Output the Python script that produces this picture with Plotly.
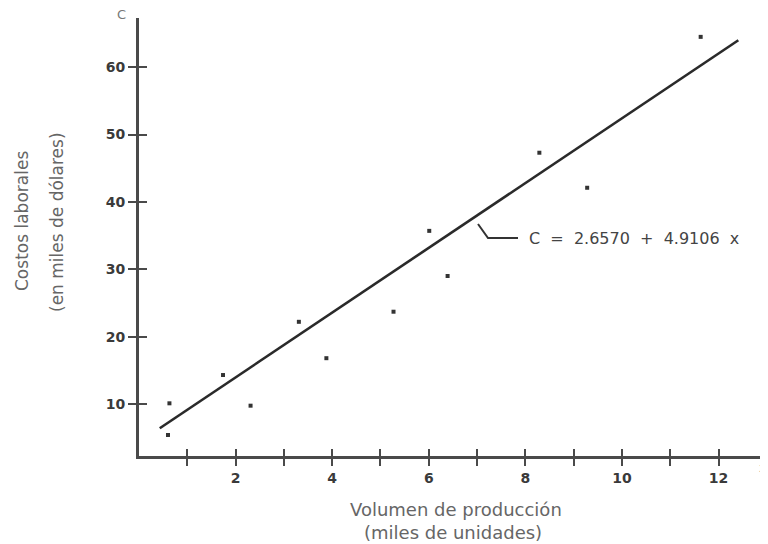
import plotly.graph_objects as go

# Data
volumen = [0.60, 0.63, 1.74, 2.31, 3.31, 3.88, 5.27, 6.01, 6.39, 8.29, 9.28, 11.63]
costos = [5.4, 10.1, 14.3, 9.75, 22.2, 16.8, 23.7, 35.7, 29.0, 47.3, 42.1, 64.5]
# fitted line as drawn in the chart (C = 2.6570 + 4.9106 x)
linea_x = [0.43, 12.41]
linea_y = [6.4, 64.0]
x_ticks = list(range(1, 13))
x_labels = [str(v) if v % 2 == 0 else "" for v in x_ticks]
y_ticks = [10, 20, 30, 40, 50, 60]
y_labels = [str(v) for v in y_ticks]

XR = [0, 12.9]
YR = [2.28, 67.3]
axis_col = "#4a4a4a"
font_fam = "DejaVu Sans, Verdana, sans-serif"

# page body offsets the figure by 8px; figure sized to fill the rest of the window
OFF = 8
FW, FH = 768 - OFF, 544 - OFF
L, T = 139 - OFF, 18 - OFF
R, B = 6, 88

fig = go.Figure()
fig.add_trace(go.Scatter(x=linea_x, y=linea_y, mode="lines",
                         line=dict(color="#2a2a2a", width=2.6), showlegend=False))
fig.add_trace(go.Scatter(x=volumen, y=costos, mode="markers",
                         marker=dict(symbol="square", size=4, color="#333333"),
                         showlegend=False))

common_x = dict(range=XR, tickvals=x_ticks, showgrid=False, zeroline=False,
                ticklen=7, tickwidth=2, tickcolor=axis_col, fixedrange=True)
common_y = dict(range=YR, tickvals=y_ticks, showgrid=False, zeroline=False,
                ticklen=8, tickwidth=2, tickcolor=axis_col, fixedrange=True)

tick_font = dict(size=14, color="#3a3a3a", family="DejaVu Sans Bold, DejaVu Sans, sans-serif",
                 weight="bold")
fig.update_layout(
    width=FW, height=FH,
    margin=dict(l=L, r=R, t=T, b=B),
    plot_bgcolor="white", paper_bgcolor="white",
    font=dict(family=font_fam, color="#555555", size=13),
    xaxis=dict(**common_x, ticktext=x_labels, ticks="outside",
               showline=True, linewidth=3, linecolor=axis_col, tickfont=tick_font),
    xaxis2=dict(**common_x, ticks="inside", overlaying="x", anchor="y",
                showticklabels=False, showline=False, side="bottom"),
    yaxis=dict(**common_y, ticktext=y_labels, ticks="outside",
               showline=True, linewidth=3, linecolor=axis_col, tickfont=tick_font),
    yaxis2=dict(**common_y, ticks="inside", overlaying="y", anchor="x",
                showticklabels=False, showline=False, side="left"),
)
# invisible trace bound to the overlay axes (for the crossing tick marks)
fig.add_trace(go.Scatter(x=[None], y=[None], xaxis="x2", yaxis="y2",
                         showlegend=False, hoverinfo="skip"))

W = FW - L - R
H = FH - T - B
def px(xs):
    return (xs - OFF - L) / W
def py(ys):
    return (FH - B - (ys - OFF)) / H

NB = "\u00a0"
eq = f"C{NB} ={NB} 2.6570{NB} +{NB} 4.9106{NB} x"
anns = [
    dict(text=eq, x=px(527), y=py(238), xanchor="left", yanchor="middle",
         font=dict(size=16, color="#444444")),
    dict(text="C", x=px(121), y=py(15), xanchor="center", yanchor="middle",
         font=dict(size=13, color="#777777")),
    dict(text="x", x=px(757), y=py(468), xanchor="left", yanchor="middle",
         font=dict(size=12, color="#888888")),
    dict(text="Volumen de producción", x=px(456), y=py(509), xanchor="center", yanchor="middle",
         font=dict(size=18, color="#666666")),
    dict(text="(miles de unidades)", x=px(453), y=py(532), xanchor="center", yanchor="middle",
         font=dict(size=18, color="#666666")),
    dict(text="Costos laborales", x=px(22), y=py(221), textangle=-90, xanchor="center",
         yanchor="middle", font=dict(size=17, color="#666666")),
    dict(text="(en miles de dólares)", x=px(57), y=py(222), textangle=-90, xanchor="center",
         yanchor="middle", font=dict(size=17, color="#666666")),
]
for a in anns:
    fig.add_annotation(xref="paper", yref="paper", showarrow=False, **a)

# leader line from regression line to equation label
fig.add_shape(type="path", xref="paper", yref="paper",
              path=f"M {px(478)} {py(224)} L {px(488)} {py(238)} L {px(518)} {py(238)}",
              line=dict(color="#333333", width=2))

fig.write_html("out.html")
